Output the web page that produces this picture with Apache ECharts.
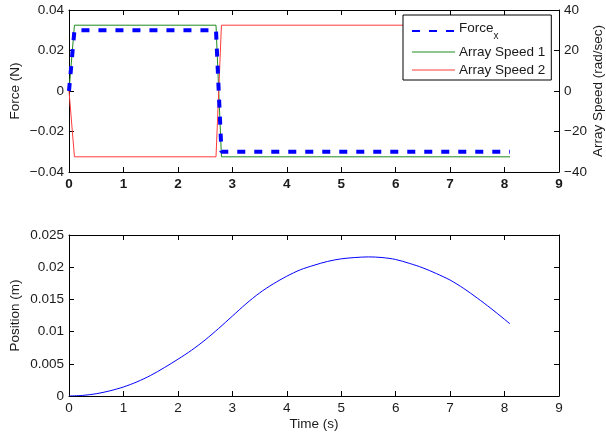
<!DOCTYPE html>
<html>
<head>
<meta charset="utf-8">
<script src="https://cdn.jsdelivr.net/npm/echarts@6/dist/echarts.min.js"></script>
<style>
  html, body { margin: 0; padding: 0; background: #fff; }
  #chart { width: 606px; height: 439px; }
</style>
</head>
<body>
<div id="chart"></div>
<script>
// Time samples (s) for the force / array speed traces
const timeDrive = [0, 0.1, 2.7, 2.8, 8.1];
// Force along x (N)
const forceX = [0, 0.03, 0.03, -0.03, -0.03];
// Array speeds (rad/sec)
const arraySpeed1 = [0, 32.5, 32.5, -32.5, -32.5];
const arraySpeed2 = [0, -32.5, -32.5, 32.5, 32.5];

// Position trace (m) against time (s)
const timePos = [0, 0.25, 0.5, 0.75, 1, 1.25, 1.5, 1.75, 2, 2.25, 2.5, 2.75,
  3, 3.25, 3.5, 3.75, 4, 4.25, 4.5, 4.75, 5, 5.25, 5.5, 5.75, 6, 6.25, 6.5,
  6.75, 7, 7.25, 7.5, 7.75, 8, 8.1];
const position = [0, 0.00009, 0.00035, 0.0008, 0.0014, 0.0022, 0.0032, 0.0044,
  0.0057, 0.0071, 0.0087, 0.0105, 0.0124, 0.0143, 0.0160, 0.0174, 0.0186,
  0.0196, 0.0203, 0.0209, 0.0213, 0.0215, 0.0216, 0.0215, 0.0212, 0.0206,
  0.0199, 0.0190, 0.0180, 0.0167, 0.0152, 0.0136, 0.0119, 0.0112];

// Axis ticks
const timeTicks = [0, 1, 2, 3, 4, 5, 6, 7, 8, 9];
const forceTicks = [-0.04, -0.02, 0, 0.02, 0.04];
const speedTicks = [-40, -20, 0, 20, 40];
const positionTicks = [0, 0.005, 0.01, 0.015, 0.02, 0.025];

const FONT = "'Liberation Sans', Arial, Helvetica, sans-serif";
const INK = '#1a1a1a';
const FS = 13.5;

function fmtNum(v) {
  const s = String(+v.toFixed(4));
  return v < 0 ? '\u2212' + s.slice(1) : s;
}
function pairs(xs, ys) { return xs.map((x, i) => [x, ys[i]]); }
function stepOf(t) { return t[1] - t[0]; }

const lineAxis = { show: true, onZero: false, lineStyle: { color: '#000', width: 1 } };
const tick = { show: true, inside: true, length: 5, lineStyle: { color: '#000', width: 1 } };

function timeAxis(gridIndex, position, withLabels, bold) {
  return {
    type: 'value', gridIndex, position,
    min: timeTicks[0], max: timeTicks[timeTicks.length - 1], interval: stepOf(timeTicks),
    axisLine: lineAxis, axisTick: tick, splitLine: { show: false },
    nameMoveOverlap: false,
    axisLabel: withLabels ? {
      show: true, margin: 5, color: INK, fontFamily: FONT, fontSize: FS,
      fontWeight: bold ? 'bold' : 'normal', formatter: fmtNum
    } : { show: false }
  };
}
function valueAxis(gridIndex, position, ticks, withLabels, extra) {
  return Object.assign({
    type: 'value', gridIndex, position,
    min: ticks[0], max: ticks[ticks.length - 1], interval: stepOf(ticks),
    axisLine: lineAxis, axisTick: tick, splitLine: { show: false },
    nameMoveOverlap: false,
    axisLabel: withLabels ? {
      show: true, margin: 5, color: INK, fontFamily: FONT, fontSize: FS, formatter: fmtNum
    } : { show: false }
  }, extra || {});
}

const nameStyle = { color: INK, fontFamily: FONT, fontSize: FS };

const chart = echarts.init(document.getElementById('chart'), null, { renderer: 'canvas' });
chart.setOption({
  animation: false,
  backgroundColor: '#fff',
  grid: [
    { left: 69, right: 47, top: 10, height: 162, outerBoundsMode: 'none', containLabel: false },
    { left: 69, right: 47, top: 235, height: 161, outerBoundsMode: 'none', containLabel: false }
  ],
  xAxis: [
    timeAxis(0, 'bottom', true, true),
    timeAxis(0, 'top', false),
    Object.assign(timeAxis(1, 'bottom', true, false), {
      name: 'Time (s)', nameLocation: 'middle', nameGap: 21, nameTextStyle: nameStyle
    }),
    timeAxis(1, 'top', false)
  ],
  yAxis: [
    valueAxis(0, 'left', forceTicks, true, {
      name: 'Force (N)', nameLocation: 'middle', nameGap: 47, nameRotate: 90, nameTextStyle: nameStyle
    }),
    valueAxis(0, 'right', speedTicks, true, {
      name: 'Array Speed (rad/sec)', nameLocation: 'middle', nameGap: 32, nameRotate: 90, nameTextStyle: nameStyle
    }),
    valueAxis(1, 'left', positionTicks, true, {
      name: 'Position (m)', nameLocation: 'middle', nameGap: 47, nameRotate: 90, nameTextStyle: nameStyle
    }),
    valueAxis(1, 'right', positionTicks, false)
  ],
  legend: {
    orient: 'vertical',
    left: 403, top: 15,
    padding: [6, 6, 3, 8],
    itemGap: 4,
    itemWidth: 43, itemHeight: 14,
    backgroundColor: '#fff',
    borderColor: '#000', borderWidth: 1, borderRadius: 0,
    itemStyle: { opacity: 0, borderWidth: 0 },
    data: [
      { name: 'Forcex' },
      { name: 'Array Speed 1', lineStyle: { width: 1 } },
      { name: 'Array Speed 2', lineStyle: { width: 1 } }
    ],
    formatter: function (name) {
      return name === 'Forcex' ? '{base|Force}{sub|x}' : name;
    },
    textStyle: {
      color: INK, fontFamily: FONT, fontSize: FS, padding: [0, 0, 0, -1],
      rich: {
        base: { color: INK, fontFamily: FONT, fontSize: FS, verticalAlign: 'top', padding: [0, 0, 6, 0] },
        sub: { color: INK, fontFamily: FONT, fontSize: 10, verticalAlign: 'bottom', padding: [8, 0, 0, 0] }
      }
    }
  },
  series: [
    {
      name: 'Array Speed 1', type: 'line', xAxisIndex: 0, yAxisIndex: 1,
      data: pairs(timeDrive, arraySpeed1), symbol: 'none',
      lineStyle: { color: '#1f8a1f', width: 1 }, itemStyle: { color: '#1f8a1f' }, z: 2
    },
    {
      name: 'Array Speed 2', type: 'line', xAxisIndex: 0, yAxisIndex: 1,
      data: pairs(timeDrive, arraySpeed2), symbol: 'none',
      lineStyle: { color: '#ff3b3b', width: 1 }, itemStyle: { color: '#ff3b3b' }, z: 2
    },
    {
      name: 'Forcex', type: 'line', xAxisIndex: 0, yAxisIndex: 0,
      data: pairs(timeDrive, forceX), symbol: 'none',
      lineStyle: { color: '#0000ff', width: 4, type: [8, 9], cap: 'butt' },
      itemStyle: { color: '#0000ff' }, z: 3
    },
    {
      name: 'Position', type: 'line', xAxisIndex: 2, yAxisIndex: 2,
      data: pairs(timePos, position), symbol: 'none', smooth: 0.3,
      lineStyle: { color: '#0000ff', width: 1 }, itemStyle: { color: '#0000ff' }
    }
  ]
});
</script>
</body>
</html>
